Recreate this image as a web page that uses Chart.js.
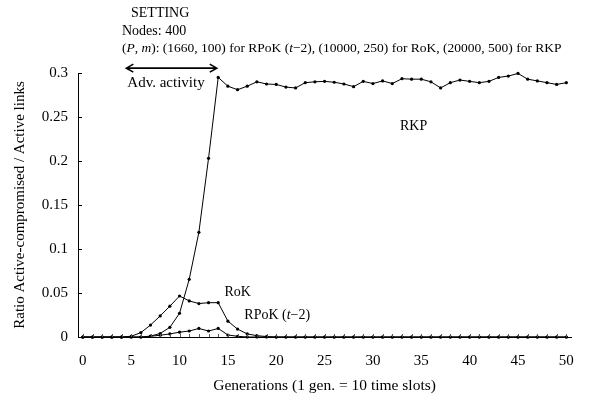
<!DOCTYPE html>
<html>
<head>
<meta charset="utf-8">
<script src="https://cdn.jsdelivr.net/npm/chart.js@4.4.1/dist/chart.umd.min.js"></script>
<style>
  body { margin: 0; background: #fff; }
  #wrap { width: 589px; height: 403px; }
</style>
</head>
<body>
<div id="wrap"><canvas id="chartRatio" width="589" height="403"></canvas></div>
<script>
// generations (1 gen. = 10 time slots)
const gens = [0,1,2,3,4,5,6,7,8,9,10,11,12,13,14,15,16,17,18,19,20,21,22,23,24,25,
  26,27,28,29,30,31,32,33,34,35,36,37,38,39,40,41,42,43,44,45,46,47,48,49,50];

// ratio active-compromised / active links
const rkp = [0,0,0,0,0,0,0,0.001,0.004,0.011,0.027,0.0655,0.119,0.203,0.295,
  0.285,0.281,0.285,0.29,0.2875,0.287,0.284,0.283,0.289,0.29,0.2905,0.2895,0.2875,
  0.2845,0.2905,0.288,0.291,0.288,0.2935,0.293,0.293,0.29,0.283,0.289,0.292,0.2905,
  0.289,0.2905,0.295,0.2965,0.2995,0.293,0.291,0.289,0.287,0.289];
const rok = [0,0,0,0,0,0.0008,0.005,0.0136,0.024,0.035,0.0466,0.041,0.038,0.039,0.039,
  0.018,0.009,0.0035,0.0015,0.0005,0,0,0,0,0,0,0,0,0,0,0,0,0,0,0,0,0,0,0,0,0,
  0,0,0,0,0,0,0,0,0,0];
const rpok = [0,0,0,0,0,0,0,0.0008,0.002,0.0035,0.0055,0.0068,0.0097,0.0068,0.0097,
  0.0023,0.0008,0,0,0,0,0,0,0,0,0,0,0,0,0,0,0,0,0,0,0,0,0,0,0,0,
  0,0,0,0,0,0,0,0,0,0];

const xTicks = [0,5,10,15,20,25,30,35,40,45,50];
const yTicks = [0,0.05,0.1,0.15,0.2,0.25,0.3];

const serif = '"Liberation Serif", serif';

function series(label, values){
  return {
    label: label,
    data: gens.map((g, i) => ({x: g, y: values[i]})),
    borderColor: '#000',
    backgroundColor: '#000',
    borderWidth: 1,
    pointRadius: 1.6,
    pointHoverRadius: 1.6,
    pointBorderWidth: 0,
    tension: 0,
    clip: false
  };
}

// draw a run of text pieces, some italic, starting at x
function fillRich(ctx, pieces, x, y, size){
  pieces.forEach(p => {
    ctx.font = (p[1] ? 'italic ' : '') + size + 'px ' + serif;
    ctx.fillText(p[0], x, y);
    x += ctx.measureText(p[0]).width;
  });
}

// text, arrow and inward ticks
const decorations = {
  id: 'decorations',
  afterDraw(chart){
    const ctx = chart.ctx;
    const xs = chart.scales.x, ys = chart.scales.y;
    const area = chart.chartArea;
    ctx.save();
    ctx.strokeStyle = '#000';
    ctx.fillStyle = '#000';
    ctx.lineWidth = 1;

    // y ticks pointing inward
    yTicks.forEach(v => {
      const py = Math.round(ys.getPixelForValue(v)) + 0.5;
      ctx.beginPath();
      ctx.moveTo(area.left, py);
      ctx.lineTo(area.left + 4, py);
      ctx.stroke();
    });
    // small x ticks on each generation
    ctx.strokeStyle = '#555';
    gens.forEach(g => {
      const px = Math.round(xs.getPixelForValue(g)) + 0.5;
      ctx.beginPath();
      ctx.moveTo(px, area.bottom);
      ctx.lineTo(px, area.bottom - 3);
      ctx.stroke();
    });

    // setting block
    ctx.strokeStyle = '#000';
    ctx.textBaseline = 'middle';
    ctx.textAlign = 'left';
    ctx.font = '14px ' + serif;
    ctx.fillText('SETTING', 131, 13);
    ctx.fillText('Nodes: 400', 122, 31);
    fillRich(ctx, [
      ['(', false], ['P', true], [', ', false], ['m', true],
      ['): (1660, 100) for RPoK (', false], ['t', true],
      ['\u22122), (10000, 250) for RoK, (20000, 500) for RKP', false]
    ], 122, 48, 13.5);

    // adversary activity arrow
    const ax1 = xs.getPixelForValue(4.5), ax2 = xs.getPixelForValue(13.85);
    const ay = ys.getPixelForValue(0.3055);
    ctx.lineWidth = 1.6;
    ctx.beginPath();
    ctx.moveTo(ax1, ay); ctx.lineTo(ax2, ay);
    ctx.moveTo(ax1 + 7, ay - 4); ctx.lineTo(ax1, ay); ctx.lineTo(ax1 + 7, ay + 4);
    ctx.moveTo(ax2 - 7, ay - 4); ctx.lineTo(ax2, ay); ctx.lineTo(ax2 - 7, ay + 4);
    ctx.stroke();

    ctx.font = '15px ' + serif;
    ctx.fillText('Adv. activity', xs.getPixelForValue(4.6), ys.getPixelForValue(0.288));
    ctx.font = '14px ' + serif;
    ctx.fillText('RKP', xs.getPixelForValue(32.8), ys.getPixelForValue(0.2395));
    ctx.fillText('RoK', xs.getPixelForValue(14.65), ys.getPixelForValue(0.0505));
    fillRich(ctx, [['RPoK (', false], ['t', true], ['\u22122)', false]],
      xs.getPixelForValue(16.7), ys.getPixelForValue(0.0245), 14);
    ctx.restore();
  }
};

const data = {
  datasets: [series('RKP', rkp), series('RoK', rok), series('RPoK (t-2)', rpok)]
};

const config = {
  type: 'line',
  data: data,
  options: {
    responsive: false,
    animation: false,
    events: [],
    layout: { padding: { left: 0, right: 17, top: 73, bottom: 0 } },
    plugins: { legend: { display: false }, tooltip: { enabled: false } },
    scales: {
      x: {
        type: 'linear',
        min: -0.5,
        max: 50.5,
        afterBuildTicks: s => { s.ticks = xTicks.map(v => ({value: v})); },
        afterFit: s => { s.height = 66; },
        grid: { display: false, drawTicks: false },
        border: { display: true, color: '#000', width: 1 },
        ticks: { color: '#000', font: { family: serif, size: 15 }, padding: 15, maxRotation: 0 },
        title: {
          display: true,
          text: 'Generations (1 gen. = 10 time slots)',
          color: '#000',
          font: { family: serif, size: 15.5 },
          padding: { top: 0, bottom: 8 }
        }
      },
      y: {
        min: 0,
        max: 0.3,
        afterBuildTicks: s => { s.ticks = yTicks.map(v => ({value: v})); },
        afterFit: s => { s.width = 78; },
        grid: { display: false, drawTicks: false },
        border: { display: true, color: '#000', width: 1 },
        ticks: {
          color: '#000',
          font: { family: serif, size: 15 },
          padding: 10,
          callback: v => String(+v.toFixed(2))
        },
        title: {
          display: true,
          text: 'Ratio Active-compromised / Active links',
          color: '#000',
          font: { family: serif, size: 15 },
          padding: { top: 11, bottom: 0 }
        }
      }
    }
  },
  plugins: [decorations]
};

const myChart = new Chart(document.getElementById('chartRatio'), config);
</script>
</body>
</html>
